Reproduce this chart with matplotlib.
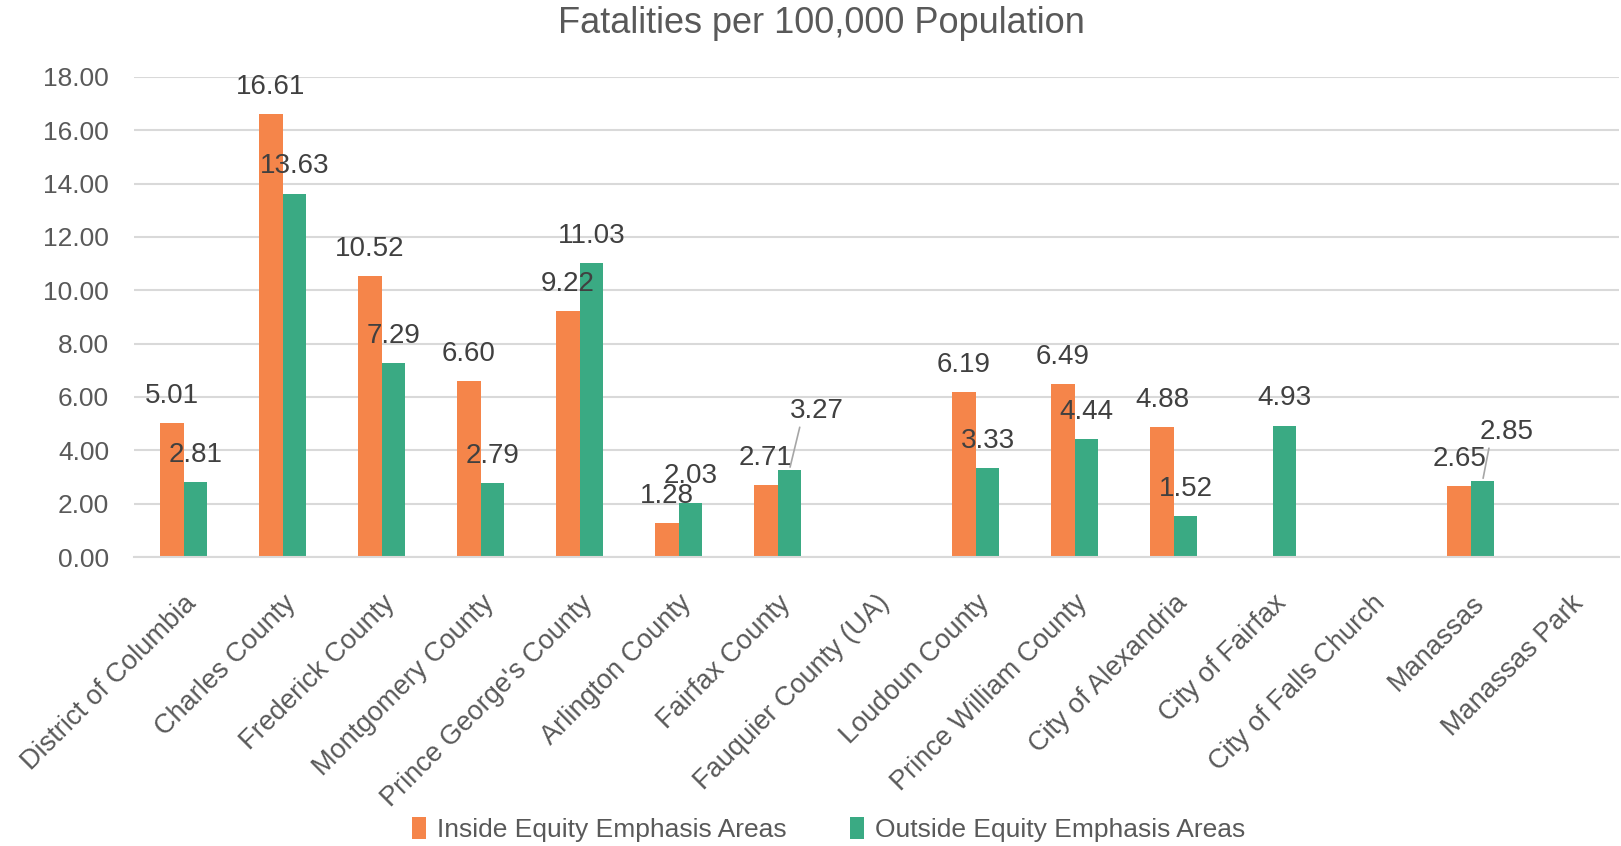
import numpy as np
import matplotlib
matplotlib.use('Agg')
from matplotlib import pyplot as plt

plt.rcParams['font.family'] = ['Liberation Sans', 'DejaVu Sans']

categories = ['District of Columbia', 'Charles County', 'Frederick County', 'Montgomery County',
              "Prince George's County", 'Arlington County', 'Fairfax County', 'Fauquier County (UA)',
              'Loudoun County', 'Prince William County', 'City of Alexandria', 'City of Fairfax',
              'City of Falls Church', 'Manassas', 'Manassas Park']
inside = [5.01, 16.61, 10.52, 6.60, 9.22, 1.28, 2.71, np.nan, 6.19, 6.49, 4.88, np.nan, np.nan, 2.65, np.nan]
outside = [2.81, 13.63, 7.29, 2.79, 11.03, 2.03, 3.27, np.nan, 3.33, 4.44, 1.52, 4.93, np.nan, 2.85, np.nan]
series_names = ['Inside Equity Emphasis Areas', 'Outside Equity Emphasis Areas']
yticks = [0, 2, 4, 6, 8, 10, 12, 14, 16, 18]

# labels that Excel moved away from the bar (offset in points, with leader line)
moved_labels = {(1, 'Fairfax County'): (20, 42), (1, 'Manassas'): (17, 35)}

orange = '#F5854A'
green = '#3AAA83'
colors = [orange, green]
label_color = '#404040'
text_color = '#595959'

fig = plt.figure(figsize=(16.21, 8.46), dpi=100)
ax = fig.add_axes([0.0827, 0.3416, 0.9163, 0.5674])

x = np.arange(len(categories))
w = 0.237
for k, vals in enumerate([inside, outside]):
    pos = x + (k - 0.5) * w
    ax.bar(pos, vals, width=w, color=colors[k], label=series_names[k], zorder=2)
    for p, v, cat in zip(pos, vals, categories):
        if np.isnan(v):
            continue
        if (k, cat) in moved_labels:
            dx, dy = moved_labels[(k, cat)]
            ax.annotate(f'{v:.2f}', (p, v), xytext=(dx, dy), textcoords='offset points',
                        ha='center', va='center', fontsize=20, color=label_color,
                        arrowprops=dict(arrowstyle='-', color='#A6A6A6', lw=1.2,
                                        shrinkA=0, shrinkB=2, relpos=(0.2, 0.1)))
        else:
            ax.annotate(f'{v:.2f}', (p, v), xytext=(0, 19.5), textcoords='offset points',
                        ha='center', va='center', fontsize=20, color=label_color)

ax.set_xlim(-0.5, len(categories) - 0.5)
ax.set_ylim(0, 18)
ax.set_yticks(yticks)
ax.set_yticklabels([f'{t:.2f}' for t in yticks], fontsize=19, color=text_color)
ax.set_xticks(x)
ax.set_xticklabels(categories, rotation=45, ha='right', rotation_mode='anchor',
                   fontsize=19.5, color=text_color)
ax.tick_params(axis='y', length=0, pad=18)
ax.tick_params(axis='x', length=0, pad=24)
ax.grid(axis='y', color='#D9D9D9', linewidth=1.5, zorder=0)
ax.set_axisbelow(True)
for s in ['top', 'right', 'left']:
    ax.spines[s].set_visible(False)
ax.spines['bottom'].set_color('#D9D9D9')
ax.spines['bottom'].set_linewidth(1.5)

fig.text(0.507, 0.972, 'Fatalities per 100,000 Population', ha='center', va='center',
         fontsize=26, color=text_color)

fig.legend(loc='center', bbox_to_anchor=(0.511, 0.019), ncol=2, frameon=False,
           fontsize=19, labelcolor=text_color, handlelength=0.55, handleheight=0.9,
           handletextpad=0.4, columnspacing=2.4)

fig.savefig('out.png', dpi=100)
